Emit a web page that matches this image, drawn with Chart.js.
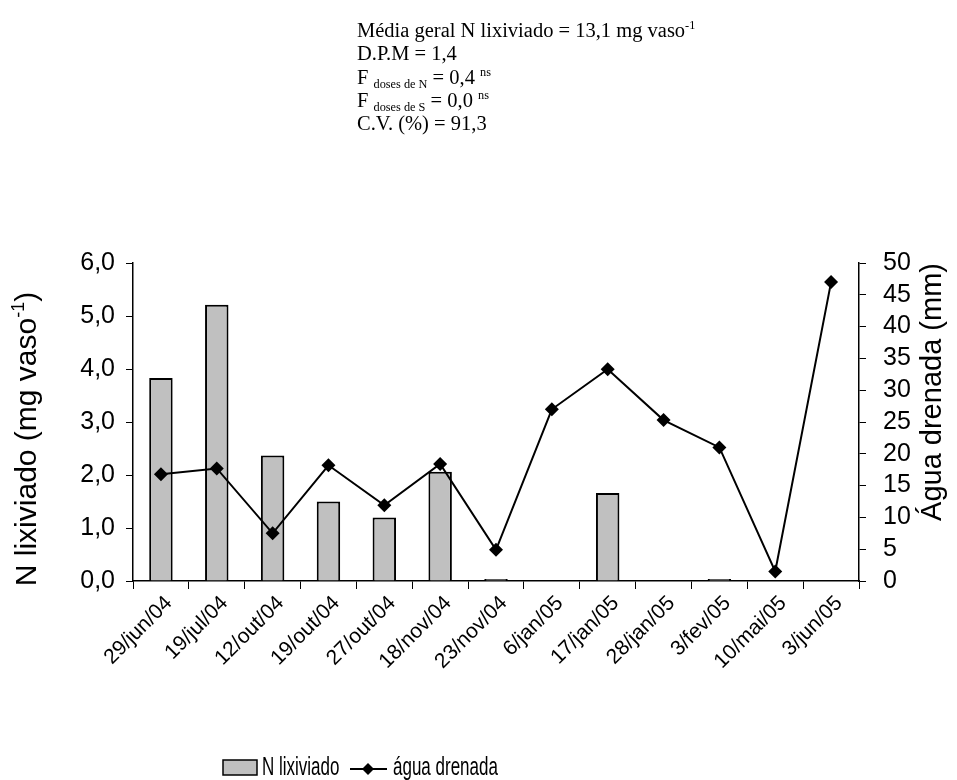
<!DOCTYPE html>
<html>
<head>
<meta charset="utf-8">
<script src="https://cdn.jsdelivr.net/npm/chart.js@4.4.1/dist/chart.umd.min.js"></script>
<style>
  html, body { margin: 0; padding: 0; background: #fff; }
  #wrap { width: 957px; height: 780px; position: relative; }
</style>
</head>
<body>
<div id="wrap"><canvas id="chart" width="957" height="780"></canvas></div>
<script>
// data
const dates = ['29/jun/04', '19/jul/04', '12/out/04', '19/out/04', '27/out/04', '18/nov/04', '23/nov/04',
  '6/jan/05', '17/jan/05', '28/jan/05', '3/fev/05', '10/mai/05', '3/jun/05'];
const nLixiviado = [3.83, 5.21, 2.37, 1.5, 1.2, 2.06, 0.04, 0, 1.66, 0, 0.04, 0, 0];
const aguaDrenada = [16.8, 17.7, 7.5, 18.2, 11.9, 18.4, 4.9, 27.0, 33.3, 25.3, 21.0, 1.5, 47.0];
const leftTicks = [0, 1, 2, 3, 4, 5, 6];
const rightTicks = [0, 5, 10, 15, 20, 25, 30, 35, 40, 45, 50];

const sans = 'Arial, "Liberation Sans", sans-serif';
const serif = '"Times New Roman", "Liberation Serif", serif';

// text with sub/superscripts: parts = [[text, kind]]
function drawRich(ctx, x, y, parts, size, family) {
  parts.forEach(([txt, kind]) => {
    let fs = size, dy = 0;
    if (kind === 'sup') { fs = size * 0.6; dy = -size * 0.4; }
    if (kind === 'sub') { fs = size * 0.6; dy = size * 0.18; }
    ctx.font = fs + 'px ' + family;
    ctx.fillText(txt, x, y + dy);
    x += ctx.measureText(txt).width;
  });
  return x;
}

function richWidth(ctx, parts, size, family) {
  let w = 0;
  parts.forEach(([txt, kind]) => {
    ctx.font = (kind ? size * 0.6 : size) + 'px ' + family;
    w += ctx.measureText(txt).width;
  });
  return w;
}

const extras = {
  id: 'extras',
  afterDraw(chart) {
    const ctx = chart.ctx;
    ctx.save();
    ctx.fillStyle = '#000';
    ctx.textBaseline = 'alphabetic';
    ctx.textAlign = 'left';

    // stats block
    const tx = 357, fs = 20.5;
    drawRich(ctx, tx, 37, [['Média geral N lixiviado = 13,1 mg vaso', ''], ['-1', 'sup']], fs, serif);
    drawRich(ctx, tx, 60, [['D.P.M = 1,4', '']], fs, serif);
    drawRich(ctx, tx, 84, [['F ', ''], ['doses de N', 'sub'], [' = 0,4 ', ''], ['ns', 'sup']], fs, serif);
    drawRich(ctx, tx, 107, [['F ', ''], ['doses de S', 'sub'], [' = 0,0 ', ''], ['ns', 'sup']], fs, serif);
    drawRich(ctx, tx, 130, [['C.V. (%) = 91,3', '']], fs, serif);

    // axis titles
    const leftTitle = [['N lixiviado (mg vaso', ''], ['-1', 'sup'], [')', '']];
    ctx.save();
    ctx.translate(36, 439);
    ctx.rotate(-Math.PI / 2);
    drawRich(ctx, -richWidth(ctx, leftTitle, 30, sans) / 2, 0, leftTitle, 30, sans);
    ctx.restore();

    ctx.save();
    ctx.translate(941, 392);
    ctx.rotate(-Math.PI / 2);
    ctx.font = '29px ' + sans;
    ctx.textAlign = 'center';
    ctx.fillText('Água drenada (mm)', 0, 0);
    ctx.restore();

    // legend (condensed text like the original)
    const ly = 768;
    ctx.fillStyle = '#c0c0c0';
    ctx.fillRect(223, ly - 8, 34, 15);
    ctx.strokeStyle = '#000';
    ctx.lineWidth = 1.5;
    ctx.strokeRect(223, ly - 8, 34, 15);
    ctx.fillStyle = '#000';
    ctx.lineWidth = 2;
    ctx.beginPath();
    ctx.moveTo(350, ly + 1);
    ctx.lineTo(387, ly + 1);
    ctx.stroke();
    ctx.beginPath();
    ctx.moveTo(368, ly - 5); ctx.lineTo(374, ly + 1); ctx.lineTo(368, ly + 7); ctx.lineTo(362, ly + 1);
    ctx.closePath();
    ctx.fill();
    ctx.font = '25px ' + sans;
    ctx.textBaseline = 'middle';
    const sq = 0.68;
    ctx.save();
    ctx.translate(262, ly);
    ctx.scale(sq, 1);
    ctx.fillText('N lixiviado', 0, 0);
    ctx.restore();
    ctx.save();
    ctx.translate(393, ly);
    ctx.scale(sq, 1);
    ctx.fillText('água drenada', 0, 0);
    ctx.restore();
    ctx.restore();
  }
};

const comma = v => v.toFixed(1).replace('.', ',');

new Chart(document.getElementById('chart'), {
  type: 'bar',
  data: {
    labels: dates,
    datasets: [
      {
        type: 'line',
        label: 'água drenada',
        data: aguaDrenada,
        yAxisID: 'y1',
        borderColor: '#000',
        backgroundColor: '#000',
        borderWidth: 2,
        pointStyle: 'rectRot',
        pointRadius: 7,
        pointBorderWidth: 0,
        tension: 0,
        order: 0
      },
      {
        label: 'N lixiviado',
        data: nLixiviado,
        yAxisID: 'y',
        backgroundColor: '#c0c0c0',
        borderColor: '#000',
        borderWidth: 2,
        categoryPercentage: 1,
        barPercentage: 0.42,
        order: 1
      }
    ]
  },
  options: {
    responsive: false,
    animation: false,
    layout: { padding: { top: 263, left: 0, right: 0, bottom: 0 } },
    plugins: { legend: { display: false }, tooltip: { enabled: false } },
    scales: {
      x: {
        grid: { offset: true, drawOnChartArea: false, tickLength: 8, color: '#000', lineWidth: 1 },
        border: { color: '#000', width: 1.5 },
        ticks: { color: '#000', font: { family: sans, size: 21 }, maxRotation: 45, minRotation: 45, padding: 2, labelOffset: 8, autoSkip: false },
        afterFit: s => { s.height = 199; }
      },
      y: {
        position: 'left',
        min: 0, max: 6,
        afterBuildTicks: s => { s.ticks = leftTicks.map(v => ({ value: v })); },
        grid: { drawOnChartArea: false, tickLength: 7, color: '#000' },
        border: { color: '#000', width: 1.5 },
        ticks: { color: '#000', font: { family: sans, size: 25 }, padding: 11, autoSkip: false, callback: v => comma(v) },
        afterFit: s => { s.width = 133; }
      },
      y1: {
        position: 'right',
        min: 0, max: 50,
        afterBuildTicks: s => { s.ticks = rightTicks.map(v => ({ value: v })); },
        grid: { drawOnChartArea: false, tickLength: 7, color: '#000' },
        border: { color: '#000', width: 1.5 },
        ticks: { color: '#000', font: { family: sans, size: 25 }, padding: 17, autoSkip: false },
        afterFit: s => { s.width = 98; }
      }
    }
  },
  plugins: [extras]
});
</script>
</body>
</html>
